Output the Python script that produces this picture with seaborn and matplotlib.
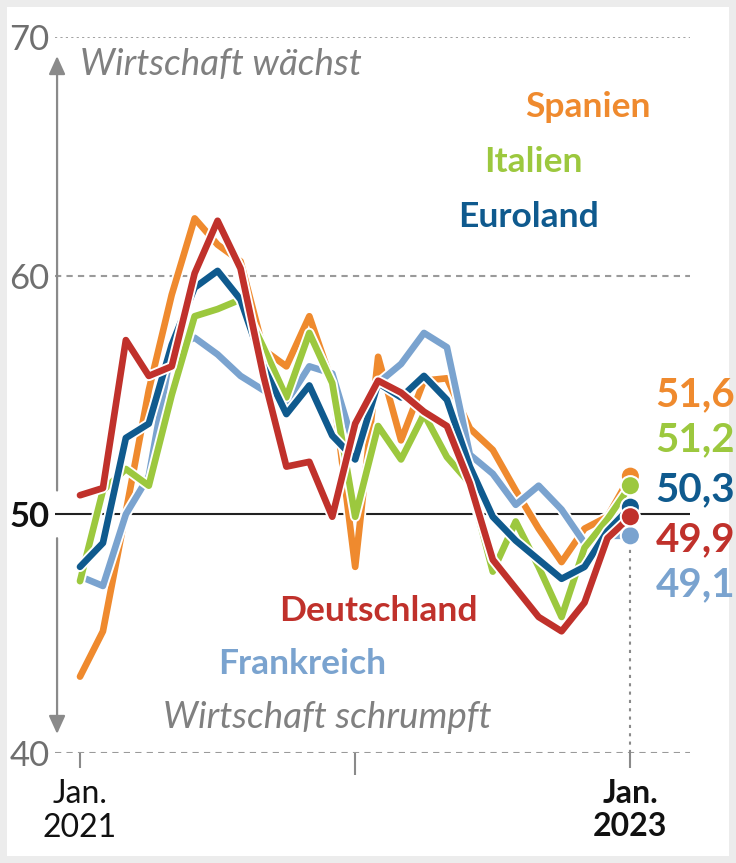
import numpy as np
import pandas as pd
import seaborn as sns
import matplotlib.pyplot as plt
import matplotlib.patheffects as pe

# Einkaufsmanagerindex, Jan. 2021 bis Jan. 2023 (monatlich)
monat = np.arange(25)

spanien = [43.2, 45.1, 50.1, 55.2, 59.2, 62.4, 61.3, 60.6, 56.9, 56.2, 58.3, 55.5,
           47.8, 56.6, 53.1, 55.6, 55.7, 53.6, 52.7, 51.0, 49.4, 48.0, 49.4, 49.9, 51.6]
frankreich = [47.4, 47.0, 50.0, 51.6, 57.0, 57.4, 56.7, 55.8, 55.2, 54.7, 56.2, 55.9,
              52.7, 55.5, 56.3, 57.6, 57.0, 52.5, 51.7, 50.4, 51.2, 50.2, 48.8, 49.1, 49.1]
italien = [47.2, 51.0, 51.9, 51.2, 55.0, 58.3, 58.6, 59.0, 57.0, 54.9, 57.6, 55.5,
           49.9, 53.7, 52.3, 54.2, 52.4, 51.3, 47.6, 49.7, 47.8, 45.7, 48.6, 49.8, 51.2]
euroland = [47.8, 48.8, 53.2, 53.8, 57.1, 59.5, 60.2, 59.0, 56.2, 54.2, 55.4, 53.3,
            52.3, 55.5, 54.9, 55.8, 54.8, 52.0, 49.9, 48.9, 48.1, 47.3, 47.8, 49.3, 50.3]
deutschland = [50.8, 51.1, 57.3, 55.8, 56.2, 60.1, 62.3, 60.3, 55.8, 52.0, 52.2, 49.9,
               53.8, 55.6, 55.1, 54.3, 53.7, 51.3, 48.1, 46.9, 45.7, 45.1, 46.3, 49.0, 49.9]

# Zeichenreihenfolge: unten -> oben
laender = ["Spanien", "Frankreich", "Italien", "Euroland", "Deutschland"]
werte = [spanien, frankreich, italien, euroland, deutschland]
farben = {"Spanien": "#ef8a2e", "Frankreich": "#7aa3cf", "Italien": "#9cc83e",
          "Euroland": "#0f5a8e", "Deutschland": "#c0312b"}

df = pd.DataFrame({
    "Monat": np.tile(monat, len(laender)),
    "Wert": np.concatenate(werte),
    "Land": np.repeat(laender, len(monat)),
})

sns.set_theme(style="white")
plt.rcParams["font.family"] = ["Lato", "DejaVu Sans"]

fig = plt.figure(figsize=(7.36, 8.63), dpi=100)
fig.patch.set_edgecolor("#ececec")
fig.patch.set_linewidth(10)
ax = fig.add_axes([55 / 736, 110 / 863, 635 / 736, 716 / 863])

grau = "#8a8a8a"
ax.axhline(70, color="#9a9a9a", lw=1.3, ls=(0, (1.2, 1.8)), zorder=0)
for g in (60, 40):
    ax.axhline(g, color="#9a9a9a", lw=1.5, ls=(0, (3, 2.5)), zorder=0)
ax.axhline(50, color="#222222", lw=1.5, zorder=0.5)

for i, land in enumerate(laender):
    sns.lineplot(data=df[df.Land == land], x="Monat", y="Wert", color=farben[land],
                 lw=4.8, ax=ax, zorder=2 + i, legend=False)
    ln = ax.lines[-1]
    ln.set_solid_joinstyle("round")
    ln.set_solid_capstyle("round")
    ln.set_path_effects([pe.Stroke(linewidth=7.5, foreground="white"), pe.Normal()])

# Endpunkte
ende = df[df.Monat == monat[-1]]
ax.vlines(monat[-1], 40, ende.Wert.min(), color=grau, lw=1.5, ls=(0, (1.5, 2.5)), zorder=1)
sns.scatterplot(data=ende, x="Monat", y="Wert", hue="Land", palette=farben, s=190,
                edgecolor="white", linewidth=1.5, ax=ax, zorder=10, legend=False)

# Endwerte rechts
label_order = ["Spanien", "Italien", "Euroland", "Deutschland", "Frankreich"]
label_y = [55.03, 53.14, 51.05, 48.95, 47.07]
for land, yy in zip(label_order, label_y):
    v = ende[ende.Land == land].Wert.iloc[0]
    ax.text(25.09, yy, f"{v:.1f}".replace(".", ","), color=farben[land], fontsize=29,
            fontweight="bold", ha="left", va="center")

# Namen
namen_pos = {"Spanien": (22.16, 67.05), "Italien": (19.77, 64.75), "Euroland": (19.55, 62.44),
             "Deutschland": (13.0, 45.94), "Frankreich": (9.69, 43.72)}
for land, (xx, yy) in namen_pos.items():
    ax.text(xx, yy, land, color=farben[land], fontsize=25.5, fontweight="bold",
            ha="center", va="center")

ax.text(0.0, 68.85, "Wirtschaft wächst", color="#808080", fontsize=26.5, style="italic",
        ha="left", va="center")
ax.text(3.62, 41.5, "Wirtschaft schrumpft", color="#808080", fontsize=26.5, style="italic",
        ha="left", va="center")

pfeil = dict(arrowstyle="-|>,head_length=0.55,head_width=0.25", color=grau, lw=1.6,
             shrinkA=0, shrinkB=0, mutation_scale=20)
ax.annotate("", xy=(-1.0, 69.2), xytext=(-1.0, 51.0), arrowprops=pfeil)
ax.annotate("", xy=(-1.0, 40.8), xytext=(-1.0, 49.0), arrowprops=pfeil)

ax.set_xlim(-1.09, 26.6)
ax.set_ylim(40, 70)
for s in ax.spines.values():
    s.set_visible(False)

ax.set_yticks([40, 50, 60, 70])
ax.set_yticklabels(["40", "50", "60", "70"], fontsize=25)
ax.tick_params(axis="y", length=0, pad=4)
for t in ax.get_yticklabels():
    if t.get_text() == "50":
        t.set_fontweight("bold")
        t.set_color("#111111")
    else:
        t.set_color("#6f6f6f")

ax.set_xticks([0, 24])
ax.set_xticklabels(["Jan.\n2021", "Jan.\n2023"], fontsize=23, color="#111111", linespacing=1.15)
ax.get_xticklabels()[1].set_fontweight("bold")
ax.set_xticks([12], minor=True)
ax.tick_params(axis="x", which="major", bottom=True, length=11, width=1.5, color=grau, pad=8)
ax.tick_params(axis="x", which="minor", bottom=True, length=16, width=1.5, color=grau)
ax.set_xlabel("")
ax.set_ylabel("")

fig.savefig("out.png", dpi=100)
